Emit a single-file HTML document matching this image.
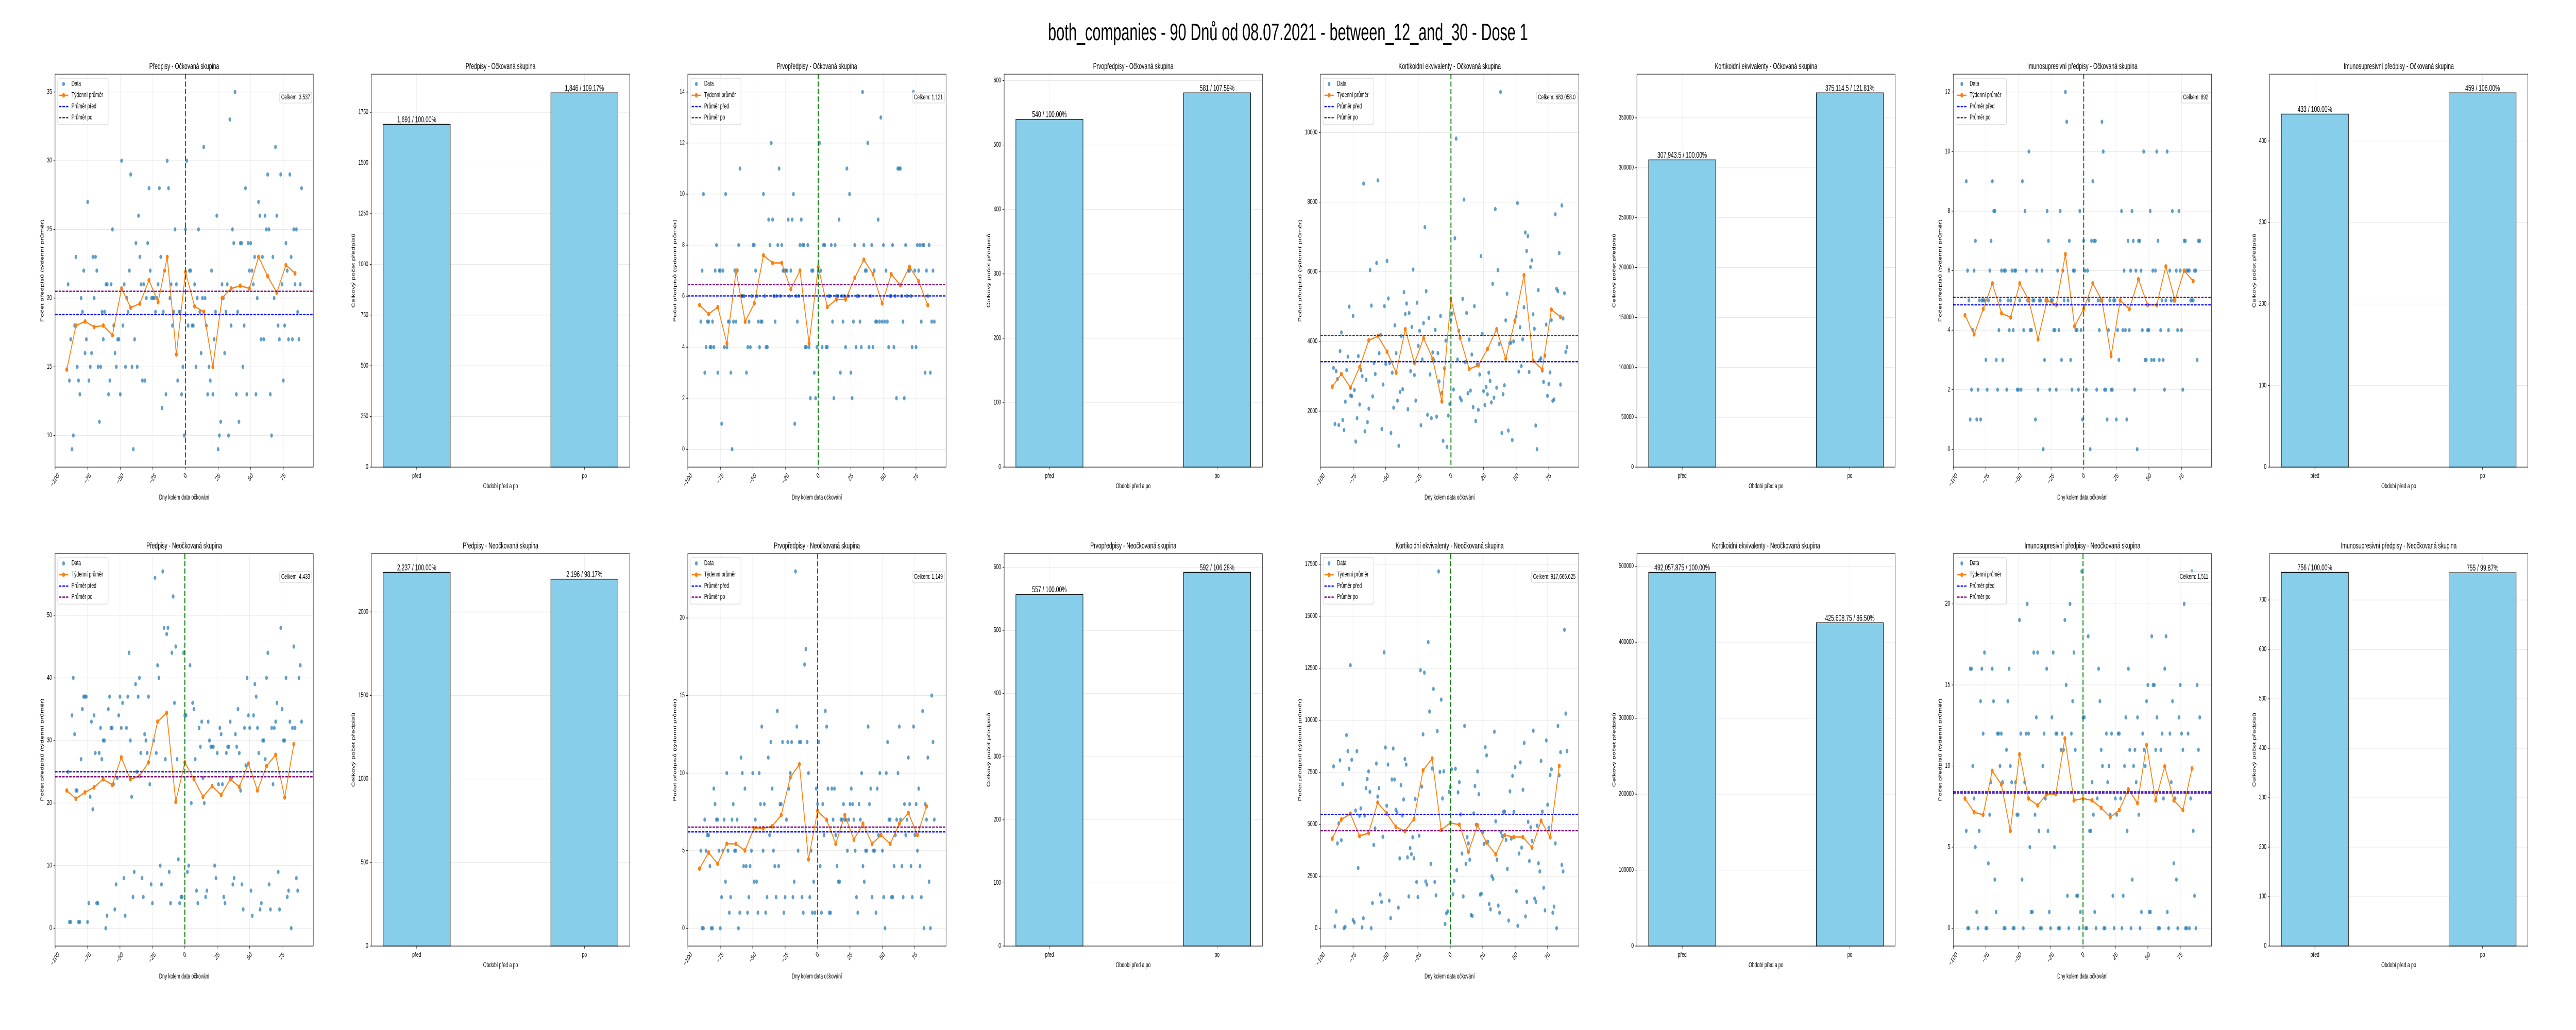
<!DOCTYPE html>
<html><head><meta charset="utf-8">
<style>
html,body{margin:0;padding:0;background:#fff;overflow:hidden;width:100%;height:100%;}
svg{display:block;width:100vw;height:100vh;font-family:"Liberation Sans","DejaVu Sans",sans-serif;}
</style></head>
<body>
<svg id="fig" viewBox="0 0 8000 2000" preserveAspectRatio="none" xmlns="http://www.w3.org/2000/svg">
<rect x="0" y="0" width="8000" height="2000" fill="#ffffff"/>
<text x="4000" y="78" text-anchor="middle" font-size="46" fill="#000">both_companies - 90 Dnů od 08.07.2021 - between_12_and_30 - Dose 1</text>
</svg>
<script>
// ---------- DATA ----------
const barCategories = ['před', 'po'];
const dayStart = -90;
const weekStart = -91;
const weekStep = 7;

// Row 1 - Očkovaná skupina
const predpisyVaccDaily = [21,14,17,9,10,18,23,15,14,13,20,19,22,16,17,27,14,15,16,23,20,23,22,15,11,15,19,17,19,21,21,13,14,21,25,18,16,15,17,17,13,30,18,21,15,20,19,22,29,15,9,17,24,15,26,23,21,14,21,14,20,24,28,22,20,20,20,19,20,21,28,23,12,19,22,13,30,28,20,21,18,19,25,21,14,19,19,13,15,10,25,30,18,22,22,18,18,21,15,20,25,19,16,20,31,20,18,13,15,14,22,13,17,19,26,9,10,11,21,20,16,19,21,10,33,18,25,24,35,13,19,11,24,24,15,18,28,13,24,22,24,22,21,23,13,20,27,26,17,23,17,26,25,29,25,13,10,23,20,31,26,18,17,29,21,14,18,24,22,17,29,23,17,25,21,25,19,17,21,28];
const predpisyVaccWeekly = [14.8,18.0,18.3,17.9,18.0,17.3,20.7,19.3,19.6,21.3,19.7,23.0,15.9,21.9,19.4,19.0,15.0,20.0,20.7,20.9,20.7,23.0,21.6,20.4,22.4,21.8];
const predpisyVaccMeans = [18.8, 20.5];
const predpisyVaccBars = [1691, 1846];

const prvoVaccDaily = [5,7,10,3,4,5,5,4,4,5,4,7,8,3,7,7,1,7,4,10,4,5,5,3,0,5,7,5,7,8,11,6,6,6,5,3,4,5,4,6,8,8,7,6,5,4,5,5,10,6,4,4,9,8,12,9,6,5,6,8,11,6,8,7,7,7,7,9,6,7,9,10,1,6,5,6,8,9,8,8,4,4,8,4,2,7,7,3,2,4,7,12,7,4,8,8,4,4,6,6,8,5,2,8,6,6,9,3,6,5,6,4,11,6,10,3,2,5,8,4,6,6,5,4,14,8,7,7,12,4,6,8,4,7,5,5,9,5,13,5,8,5,7,5,4,6,6,8,4,6,2,11,11,11,6,5,2,8,6,7,7,6,4,14,7,4,8,7,8,5,8,8,3,7,6,8,3,5,7,5];
const prvoVaccWeekly = [5.65,5.3,5.57,4.15,7.0,5.0,5.72,7.6,7.3,7.3,6.28,7.0,4.15,7.15,5.58,5.87,5.87,6.72,7.43,6.86,5.72,6.86,6.43,7.15,6.58,5.65];
const prvoVaccMeans = [6.01, 6.45];
const prvoVaccBars = [540, 581];

const kortVaccDaily = [3239,1630,3148,2921,1600,3722,4258,1743,1456,2272,3178,3563,4999,2446,2431,4734,2604,1124,1796,3579,2189,3178,3005,8533,1418,2899,1683,2068,6048,5029,2423,3382,3065,6252,8624,3662,4190,1486,2763,5014,3352,6313,5233,3382,1373,3103,2098,4462,3662,2302,1003,2551,4153,2627,5414,4787,5089,2053,4817,3148,4417,6064,3035,2302,5112,3873,4304,1592,3480,4523,7280,5444,1894,4674,3050,1796,3684,3458,4334,1841,3662,2853,4734,2521,1147,3224,4024,973,1872,2204,4613,4802,2619,6962,9825,3480,4304,2385,2310,5225,8073,3405,4817,2514,4054,2589,3624,2113,5014,1713,3329,2038,3050,6449,4221,2574,2174,2695,2483,3103,2869,2249,5656,2385,7801,2672,6048,3926,11162,1373,2483,2740,4606,5369,1441,3949,3964,1169,4002,4568,4719,7974,3133,4409,3292,4062,4983,7128,6600,7023,3125,6139,6328,4780,4364,1585,905,5474,3458,3518,3163,2838,3594,4485,2438,2778,3110,4613,2295,2332,7650,5512,5444,6539,2763,7906,4659,5384,3699,3835];
const kortVaccWeekly = [2702,3065,2672,3269,4032,4153,3707,3103,4349,3382,4092,3503,2279,5225,4107,3208,3314,3783,4349,3503,4598,5905,3450,3193,4915,4704];
const kortVaccMeans = [3420, 4175];
const kortVaccBars = [307943.5, 375114.5];

const imunoVaccDaily = [9,6,5,1,2,4,6,7,1,2,5,1,5,5,5,3,2,5,6,7,9,8,8,3,2,4,5,6,3,6,6,2,5,4,5,6,4,6,6,2,2,5,2,9,4,8,6,5,10,4,4,5,5,1,6,2,5,5,6,0,3,5,8,7,2,5,5,4,4,2,6,4,8,3,6,5,12,11,5,7,3,2,6,6,4,4,2,8,4,1,7,6,2,6,5,0,7,9,7,7,2,5,4,5,11,10,2,2,1,4,5,2,2,5,5,1,4,3,5,8,4,6,4,1,7,4,6,8,7,2,6,0,7,7,6,4,10,3,3,4,4,8,3,6,3,6,10,7,3,4,5,3,2,5,10,4,6,5,8,5,5,6,4,8,6,4,2,7,7,6,6,6,5,5,5,6,6,3,7,7];
const imunoVaccWeekly = [4.5,3.86,4.71,5.57,4.57,4.43,5.57,5.0,3.69,5.0,4.85,6.55,4.13,4.71,5.57,5.0,3.13,5.0,4.71,5.71,4.85,4.85,6.14,5.0,6.0,5.65];
const imunoVaccMeans = [4.85, 5.1];
const imunoVaccBars = [433, 459];

// Row 2 - Neočkovaná skupina
const predpisyUnvDaily = [25,1,1,34,40,31,22,22,1,1,27,35,37,37,37,1,4,21,33,19,34,28,4,4,28,32,27,30,30,0,2,35,37,32,32,23,3,7,24,34,37,32,36,8,2,32,37,44,30,21,5,9,39,25,37,40,28,8,5,31,30,28,37,23,7,4,30,56,28,42,40,10,7,57,48,27,47,48,9,4,44,53,36,45,27,11,4,5,5,44,34,34,9,10,42,20,36,35,27,6,4,32,29,33,24,20,5,6,33,30,29,29,29,10,8,28,23,32,31,23,5,4,28,29,29,33,24,7,8,31,29,35,28,22,7,3,32,26,40,34,32,6,2,34,39,37,32,28,3,4,30,30,27,40,44,7,3,32,23,32,33,36,9,3,48,35,30,30,40,5,6,33,0,32,45,32,8,6,40,42,33];
const predpisyUnvWeekly = [22.0,20.7,21.7,22.5,23.8,22.9,27.3,23.8,24.3,26.5,33.0,34.4,20.2,26.5,23.8,21.0,22.7,21.3,23.8,22.6,26.3,22.0,25.9,27.7,20.9,29.4];
const predpisyUnvMeans = [25.0, 24.2];
const predpisyUnvBars = [2237, 2196];

const prvoUnvDaily = [5,0,0,7,5,6,6,4,0,0,9,8,7,7,5,0,2,5,7,3,10,5,1,2,7,8,5,5,7,0,1,11,10,4,9,4,1,2,4,5,10,3,7,3,1,10,8,13,5,8,1,2,11,6,12,9,5,4,2,14,4,8,8,12,1,2,7,12,9,10,12,2,3,23,13,5,12,12,2,1,17,18,12,10,2,5,1,3,1,9,8,12,4,1,8,6,14,13,9,1,1,9,7,9,6,4,3,3,7,7,8,7,7,5,7,8,9,8,7,5,2,1,8,7,10,4,3,5,5,13,8,9,2,5,5,1,9,6,10,6,5,2,0,10,12,7,7,2,2,4,6,7,10,13,7,4,2,8,6,7,11,8,4,2,13,6,8,5,9,4,2,14,0,8,7,11,3,0,15,12,7];
const prvoUnvWeekly = [3.84,4.88,4.15,5.44,5.44,5.01,6.44,6.44,6.57,7.3,9.72,10.57,4.44,7.55,6.99,5.44,7.3,5.71,6.74,5.44,6.0,5.44,6.74,7.43,6.01,7.86];
const prvoUnvMeans = [6.21, 6.52];
const prvoUnvBars = [557, 592];

const kortUnvDaily = [7780,88,808,4079,5039,8071,4231,6921,0,63,9283,8513,7666,12643,8096,392,278,5658,8513,2892,5406,5759,38,480,5418,6732,7174,7540,6555,0,1212,4004,4799,7919,6328,6732,1617,1263,4395,13262,8689,5886,7868,1326,480,7149,8639,7149,5696,5570,985,3360,6883,5418,6189,8134,7868,3410,1528,3852,3562,4370,3360,6214,2223,1503,4446,12403,6808,9321,12289,2248,2097,13754,10420,3094,7679,11506,2223,1579,9473,17152,7515,10988,6239,7540,202,720,808,6555,6782,7641,1629,2273,7666,2791,6530,7022,5469,3587,1528,9725,3094,4370,4079,3296,632,594,5519,6833,4976,7540,6441,1617,1655,4623,4054,8702,8311,4155,1162,909,2501,2374,9447,5140,3296,1086,745,4623,4433,5595,5608,4244,2854,366,6580,4307,7325,5595,7742,1781,114,3587,7970,3877,6656,8904,568,1263,5115,3233,4850,4193,9498,1427,1263,4926,3120,2728,8045,5608,1945,859,9030,5936,4825,7363,7641,745,1036,4079,0,9725,7351,8462,3044,2728,14348,10319,8513];
const kortUnvWeekly = [4307,5229,5507,4433,4572,6037,5519,4875,4673,5254,7591,8159,4724,5065,4976,3675,4951,4117,3549,4471,4383,4383,3877,5166,4370,7805];
const kortUnvMeans = [5469, 4686];
const kortUnvBars = [492057.875, 425608.75];

const imunoUnvDaily = [6,0,0,16,16,10,8,5,1,0,6,14,16,12,17,0,0,4,7,9,16,14,3,1,12,12,10,12,9,0,0,11,14,16,10,9,0,0,9,7,7,19,12,3,0,9,12,20,12,5,1,1,17,7,13,17,6,0,0,10,12,8,16,6,1,0,13,17,5,12,12,0,0,11,12,11,19,15,2,0,20,12,14,17,11,2,2,0,1,22,13,13,0,0,18,6,6,9,7,1,0,8,16,14,11,10,0,0,12,9,10,7,12,2,0,8,7,12,12,8,0,2,10,13,6,16,11,0,3,10,11,9,13,7,0,1,12,11,10,14,15,1,1,18,15,15,11,13,0,0,11,12,8,16,18,1,0,12,9,14,4,8,3,0,13,15,12,11,20,0,0,12,0,8,22,6,2,0,15,11,13];
const imunoUnvWeekly = [8.0,7.15,7.0,9.7,8.87,6.0,10.73,8.0,7.58,8.27,8.27,11.7,7.88,8.0,7.88,7.42,6.84,7.29,8.57,7.71,11.3,7.88,9.98,7.88,7.29,9.85];
const imunoUnvMeans = [8.41, 8.33];
const imunoUnvBars = [756, 755];

// ---------- DRAWING ----------
const NS = 'http://www.w3.org/2000/svg';
const svg = document.getElementById('fig');
function mk(tag, attrs, parent) {
  const e = document.createElementNS(NS, tag);
  for (const k in attrs) e.setAttribute(k, attrs[k]);
  (parent || svg).appendChild(e);
  return e;
}
function niceTicks(lo, hi) {
  const raw = (hi - lo) / 9;
  const mag = Math.pow(10, Math.floor(Math.log10(raw)));
  let step = 10 * mag;
  for (const s of [1, 2, 2.5, 5, 10]) { if (s * mag >= raw - 1e-9) { step = s * mag; break; } }
  const out = [];
  for (let v = Math.ceil(lo / step - 1e-9) * step; v <= hi + 1e-9; v += step) out.push(Math.round(v * 1e6) / 1e6);
  return out;
}
function fmtTick(v) { return (v < 0 ? '\u2212' : '') + String(Math.abs(v)); }
function fmtNum(v, isFloat) {
  let s = v.toLocaleString('en-US', { maximumFractionDigits: 3 });
  if (isFloat && Number.isInteger(v)) s += '.0';
  return s;
}
function textW(el, fs) {
  let w = 0;
  try { w = el.getComputedTextLength(); } catch (e) { w = 0; }
  if (!w) w = el.textContent.length * fs * 0.56;
  return w;
}
const FS = 13.9;
function axesBox(col, row) {
  const L = 171 + 982.5 * col;
  const T = row === 0 ? 144 : 1075;
  const H = row === 0 ? 763 : 762;
  return { L: L, T: T, W: 802, H: H, R: L + 802, B: T + H };
}
function drawYTicks(g, ax, ticks, ys) {
  let maxW = 0;
  ticks.forEach(t => {
    const y = ys(t);
    const tk = mk('line', { x1: ax.L - 4.9, x2: ax.L, y1: y, y2: y, stroke: '#000', 'stroke-width': 1.1 }, g);
    
    
    const tl = mk('text', { x: ax.L - 9.7, y: y, 'text-anchor': 'end', 'dominant-baseline': 'central', 'font-size': FS, fill: '#000' }, g);
    tl.textContent = fmtTick(t);
    
    
    maxW = Math.max(maxW, textW(tl, FS));
  });
  return maxW;
}
function drawYLabel(g, ax, maxW, txt) {
  const x = ax.L - 9.7 - maxW - 5.6 - 9;
  const y = ax.T + ax.H / 2;
  const yl = mk('text', { x: x, y: y, 'text-anchor': 'middle', 'dominant-baseline': 'central', 'font-size': FS, fill: '#000', transform: 'rotate(-90 ' + x + ' ' + y + ')' }, g);
  yl.textContent = txt;
  
  
}
function drawTitle(g, ax, txt) {
  const t = mk('text', { x: ax.L + ax.W / 2, y: ax.T - 10, 'text-anchor': 'middle', 'font-size': 16.7, fill: '#000' }, g);
  t.textContent = txt;
  
  
}
function drawSpines(g, ax) {
  const r = mk('rect', { x: ax.L, y: ax.T, width: ax.W, height: ax.H, fill: 'none', stroke: '#000', 'stroke-width': 1.1 }, g);
  
  
}
function gridLine(g, x1, y1, x2, y2) {
  const l = mk('line', { x1: x1, y1: y1, x2: x2, y2: y2, stroke: '#b0b0b0', 'stroke-opacity': 0.3, 'stroke-width': 1.1 }, g);
  
  
}

function drawScatter(col, row, title, daily, weekly, means, bars, isFloat) {
  const ax = axesBox(col, row);
  const g = mk('g', {});
  
  
  const dx = daily.map((v, i) => dayStart + i);
  const wx = weekly.map((v, i) => weekStart + weekStep * i);
  const allX = dx.concat(wx), allY = daily.concat(weekly);
  let x0 = Math.min(...allX), x1 = Math.max(...allX);
  let y0 = Math.min(...allY), y1 = Math.max(...allY);
  const mx = (x1 - x0) * 0.05, my = (y1 - y0) * 0.05;
  x0 -= mx; x1 += mx; y0 -= my; y1 += my;
  const xs = v => ax.L + (v - x0) / (x1 - x0) * ax.W;
  const ys = v => ax.B - (v - y0) / (y1 - y0) * ax.H;
  const xt = niceTicks(x0, x1), yt = niceTicks(y0, y1);
  xt.forEach(t => gridLine(g, xs(t), ax.T, xs(t), ax.B));
  yt.forEach(t => gridLine(g, ax.L, ys(t), ax.R, ys(t)));
  daily.forEach((v, i) => {
    const c = mk('circle', { cx: xs(dx[i]), cy: ys(v), r: 4.2, fill: '#1f77b4', 'fill-opacity': 0.7 }, g);
    
    
  });
  const pts = weekly.map((v, i) => xs(wx[i]).toFixed(1) + ',' + ys(v).toFixed(1)).join(' ');
  const pl = mk('polyline', { points: pts, fill: 'none', stroke: '#ff7f0e', 'stroke-width': 2.6, 'stroke-linejoin': 'round' }, g);
  
  
  weekly.forEach((v, i) => {
    const c = mk('circle', { cx: xs(wx[i]), cy: ys(v), r: 4.5, fill: '#ff7f0e' }, g);
    
    
  });
  const mb = mk('line', { x1: ax.L, x2: ax.R, y1: ys(means[0]), y2: ys(means[0]), stroke: '#0000ff', 'stroke-width': 2.4, 'stroke-dasharray': '7.7 3.3' }, g);
  
  
  const ma = mk('line', { x1: ax.L, x2: ax.R, y1: ys(means[1]), y2: ys(means[1]), stroke: '#800080', 'stroke-width': 2.4, 'stroke-dasharray': '7.7 3.3' }, g);
  
  
  const vl = mk('line', { x1: xs(0), x2: xs(0), y1: ax.T, y2: ax.B, stroke: '#008000', 'stroke-width': 3, 'stroke-dasharray': '10 4.4' }, g);
  
  
  drawSpines(g, ax);
  xt.forEach(t => {
    const x = xs(t);
    const tk = mk('line', { x1: x, x2: x, y1: ax.B, y2: ax.B + 4.9, stroke: '#000', 'stroke-width': 1.1 }, g);
    
    
    const tl = mk('text', { x: x, y: 0, 'text-anchor': 'middle', 'dominant-baseline': 'central', 'font-size': FS, fill: '#000' }, g);
    tl.textContent = fmtTick(t);
    const w = textW(tl, FS);
    const yc = ax.B + 9.7 + (w + 14) * 0.3536;
    tl.setAttribute('y', yc);
    tl.setAttribute('transform', 'rotate(-45 ' + x + ' ' + yc + ')');
    
    
  });
  const xl = mk('text', { x: ax.L + ax.W / 2, y: ax.B + 63, 'text-anchor': 'middle', 'font-size': FS, fill: '#000' }, g);
  xl.textContent = 'Dny kolem data očkování';
  
  
  const mw = drawYTicks(g, ax, yt, ys);
  drawYLabel(g, ax, mw, 'Počet předpisů (týdenní průměr)');
  drawTitle(g, ax, title);
  const lg = mk('g', {}, g);
  
  
  const lb = mk('rect', { x: ax.L + 8, y: ax.T + 8, width: 157, height: 90, rx: 3, fill: '#fff', 'fill-opacity': 0.8, stroke: '#cccccc', 'stroke-width': 1.1 }, lg);
  
  
  const rowsY = [ax.T + 19, ax.T + 41, ax.T + 63, ax.T + 84.5];
  const hx1 = ax.L + 12, hx2 = ax.L + 41, tx = ax.L + 51;
  const names = ['Data', 'Týdenní průměr', 'Průměr před', 'Průměr po'];
  const e0 = mk('circle', { cx: (hx1 + hx2) / 2, cy: rowsY[0], r: 4.2, fill: '#1f77b4', 'fill-opacity': 0.7 }, lg);
  
  
  const e1 = mk('line', { x1: hx1, x2: hx2, y1: rowsY[1], y2: rowsY[1], stroke: '#ff7f0e', 'stroke-width': 2.6 }, lg);
  
  
  const e1b = mk('circle', { cx: (hx1 + hx2) / 2, cy: rowsY[1], r: 4.5, fill: '#ff7f0e' }, lg);
  
  
  const e2 = mk('line', { x1: hx1, x2: hx2, y1: rowsY[2], y2: rowsY[2], stroke: '#0000ff', 'stroke-width': 2.4, 'stroke-dasharray': '7.7 3.3' }, lg);
  
  
  const e3 = mk('line', { x1: hx1, x2: hx2, y1: rowsY[3], y2: rowsY[3], stroke: '#800080', 'stroke-width': 2.4, 'stroke-dasharray': '7.7 3.3' }, lg);
  
  
  names.forEach((n, i) => {
    const t = mk('text', { x: tx, y: rowsY[i], 'dominant-baseline': 'central', 'font-size': FS, fill: '#000' }, lg);
    t.textContent = n;
    
    
  });
  const total = bars[0] + bars[1];
  const ct = mk('text', { x: ax.R - 10, y: ax.T + 45.5, 'text-anchor': 'end', 'dominant-baseline': 'central', 'font-size': FS, fill: '#000' }, g);
  ct.textContent = 'Celkem: ' + fmtNum(total, isFloat);
  const cw = textW(ct, FS);
  const cr = mk('rect', { x: ax.R - 10 - cw - 5, y: ax.T + 35, width: cw + 10, height: 21, rx: 3, fill: '#fff', 'fill-opacity': 0.8, stroke: '#cccccc', 'stroke-width': 1.1 }, g);
  g.insertBefore(cr, ct);
  
  
  
  
}

function drawBars(col, row, title, bars, isFloat) {
  const ax = axesBox(col, row);
  const g = mk('g', {});
  
  
  const bw = 0.4;
  const x0 = -bw / 2 - 0.07, x1 = 1 + bw / 2 + 0.07;
  const y0 = 0, y1 = Math.max(...bars) * 1.05;
  const xs = v => ax.L + (v - x0) / (x1 - x0) * ax.W;
  const ys = v => ax.B - (v - y0) / (y1 - y0) * ax.H;
  const yt = niceTicks(y0, y1);
  barCategories.forEach((c, i) => gridLine(g, xs(i), ax.T, xs(i), ax.B));
  yt.forEach(t => gridLine(g, ax.L, ys(t), ax.R, ys(t)));
  bars.forEach((v, i) => {
    const r = mk('rect', { x: xs(i - bw / 2), y: ys(v), width: xs(i + bw / 2) - xs(i - bw / 2), height: ys(0) - ys(v), fill: '#87ceeb', stroke: '#000', 'stroke-width': 1.4 }, g);
    
    
    const t = mk('text', { x: xs(i), y: ys(v) - 4, 'text-anchor': 'middle', 'font-size': 16.7, fill: '#000' }, g);
    t.textContent = fmtNum(v, isFloat) + ' / ' + (v / bars[0] * 100).toFixed(2) + '%';
    
    
  });
  drawSpines(g, ax);
  barCategories.forEach((c, i) => {
    const tk = mk('line', { x1: xs(i), x2: xs(i), y1: ax.B, y2: ax.B + 4.9, stroke: '#000', 'stroke-width': 1.1 }, g);
    
    
    const tl = mk('text', { x: xs(i), y: ax.B + 21, 'text-anchor': 'middle', 'font-size': FS, fill: '#000' }, g);
    tl.textContent = c;
    
    
  });
  const xl = mk('text', { x: ax.L + ax.W / 2, y: ax.B + 41, 'text-anchor': 'middle', 'font-size': FS, fill: '#000' }, g);
  xl.textContent = 'Období před a po';
  
  
  const mw = drawYTicks(g, ax, yt, ys);
  drawYLabel(g, ax, mw, 'Celkový počet předpisů');
  drawTitle(g, ax, title);
}

const V = ' - Očkovaná skupina', N = ' - Neočkovaná skupina';
drawScatter(0, 0, 'Předpisy' + V, predpisyVaccDaily, predpisyVaccWeekly, predpisyVaccMeans, predpisyVaccBars, false);
drawBars(1, 0, 'Předpisy' + V, predpisyVaccBars, false);
drawScatter(2, 0, 'Prvopředpisy' + V, prvoVaccDaily, prvoVaccWeekly, prvoVaccMeans, prvoVaccBars, false);
drawBars(3, 0, 'Prvopředpisy' + V, prvoVaccBars, false);
drawScatter(4, 0, 'Kortikoidní ekvivalenty' + V, kortVaccDaily, kortVaccWeekly, kortVaccMeans, kortVaccBars, true);
drawBars(5, 0, 'Kortikoidní ekvivalenty' + V, kortVaccBars, true);
drawScatter(6, 0, 'Imunosupresivní předpisy' + V, imunoVaccDaily, imunoVaccWeekly, imunoVaccMeans, imunoVaccBars, false);
drawBars(7, 0, 'Imunosupresivní předpisy' + V, imunoVaccBars, false);
drawScatter(0, 1, 'Předpisy' + N, predpisyUnvDaily, predpisyUnvWeekly, predpisyUnvMeans, predpisyUnvBars, false);
drawBars(1, 1, 'Předpisy' + N, predpisyUnvBars, false);
drawScatter(2, 1, 'Prvopředpisy' + N, prvoUnvDaily, prvoUnvWeekly, prvoUnvMeans, prvoUnvBars, false);
drawBars(3, 1, 'Prvopředpisy' + N, prvoUnvBars, false);
drawScatter(4, 1, 'Kortikoidní ekvivalenty' + N, kortUnvDaily, kortUnvWeekly, kortUnvMeans, kortUnvBars, true);
drawBars(5, 1, 'Kortikoidní ekvivalenty' + N, kortUnvBars, true);
drawScatter(6, 1, 'Imunosupresivní předpisy' + N, imunoUnvDaily, imunoUnvWeekly, imunoUnvMeans, imunoUnvBars, false);
drawBars(7, 1, 'Imunosupresivní předpisy' + N, imunoUnvBars, false);
</script>
</body></html>
